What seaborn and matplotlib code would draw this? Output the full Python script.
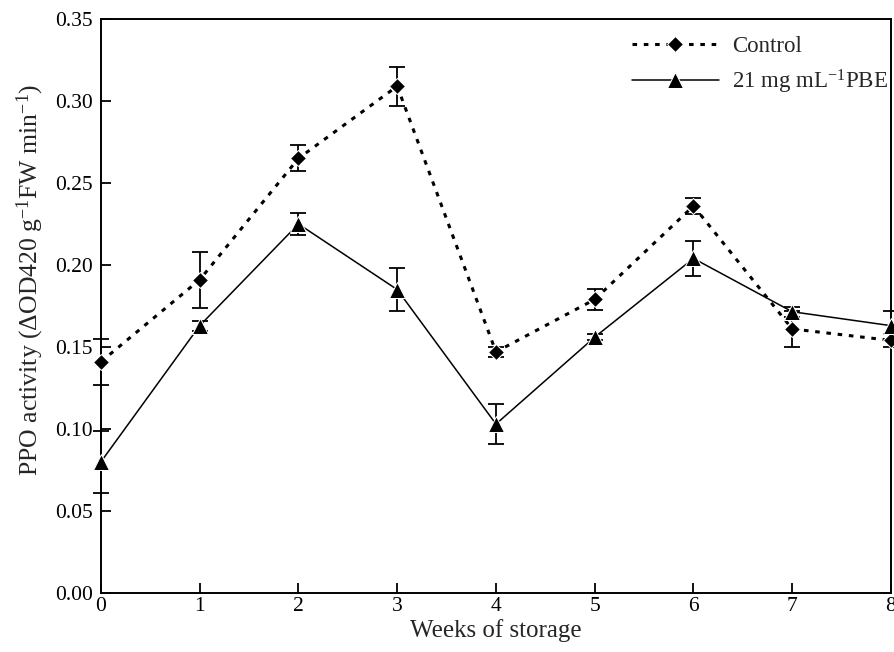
import numpy as np
import pandas as pd
import matplotlib
matplotlib.use('Agg')
import matplotlib.pyplot as plt
import seaborn as sns

# dados
semanas = [0, 1, 2, 3, 4, 5, 6, 7, 8]
controle = [0.141, 0.191, 0.265, 0.309, 0.147, 0.179, 0.236, 0.161, 0.154]
controle_err = [0.014, 0.017, 0.008, 0.012, 0.003, 0.0065, 0.005, 0.011, 0.004]
pbe = [0.080, 0.163, 0.225, 0.185, 0.103, 0.156, 0.204, 0.1715, 0.163]
pbe_err = [0.019, 0.003, 0.007, 0.013, 0.012, 0.002, 0.0107, 0.003, 0.009]

rotulo_ctrl = 'Control'
rotulo_pbe = '21 mg mL$^{-1}$PBE'

sns.set_style('ticks')
plt.rcParams['font.family'] = ['Liberation Serif', 'DejaVu Serif']
plt.rcParams['mathtext.fontset'] = 'custom'
plt.rcParams['mathtext.rm'] = 'Liberation Serif'
plt.rcParams['mathtext.it'] = 'Liberation Serif:italic'

df = pd.DataFrame({
    'semana': semanas * 2,
    'ppo': controle + pbe,
    'err': controle_err + pbe_err,
    'grupo': [rotulo_ctrl] * len(semanas) + [rotulo_pbe] * len(semanas),
})

fig = plt.figure(figsize=(8.95, 6.52), dpi=100)
ax = fig.add_axes([0.1128, 0.0905, 0.8827, 0.8804])

sns.lineplot(data=df[df.grupo == rotulo_ctrl], x='semana', y='ppo', ax=ax,
             color='black', marker='D', markersize=8, linewidth=2.2,
             linestyle=(0, (1.5, 2.2)), label=rotulo_ctrl, errorbar=None,
             clip_on=False, zorder=3)
sns.lineplot(data=df[df.grupo == rotulo_pbe], x='semana', y='ppo', ax=ax,
             color='black', marker='^', markersize=11, linewidth=1.1,
             linestyle='-', label=rotulo_pbe, errorbar=None,
             clip_on=False, zorder=3)

# barras de erro (desvio) por grupo
for g in [rotulo_ctrl, rotulo_pbe]:
    d = df[df.grupo == g]
    eb = ax.errorbar(d['semana'], d['ppo'], yerr=d['err'], fmt='none',
                     ecolor='black', elinewidth=1.3, capsize=6, capthick=1.3)
    for art in eb.lines[1] + eb.lines[2]:
        art.set_clip_on(False)

ax.set_xlim(0, 8)
ax.set_ylim(0, 0.35)
ax.set_xticks(range(0, 9))
ax.set_yticks(np.arange(0, 0.36, 0.05))
ax.yaxis.set_major_formatter(matplotlib.ticker.FormatStrFormatter('%.2f'))
ax.tick_params(direction='in', length=7, width=1.3, labelsize=15.5,
               colors='black')
ax.tick_params(axis='y', pad=6)
ax.tick_params(axis='x', pad=3)
for s in ax.spines.values():
    s.set_linewidth(1.4)
    s.set_color('black')

ax.set_xlabel('Weeks of storage', fontsize=18, labelpad=2)
ax.set_ylabel('PPO activity (ΔOD420 g$^{-1}$FW min$^{-1}$)', fontsize=18.5)
ax.yaxis.set_label_coords(-0.07, 0.545)

ax.legend(loc='upper right', bbox_to_anchor=(1.011, 0.99), frameon=False,
          fontsize=16.5, handlelength=3.8, borderaxespad=0.2,
          labelspacing=0.45, handletextpad=0.6, borderpad=0.3)

plt.savefig('out.png', dpi=100)
